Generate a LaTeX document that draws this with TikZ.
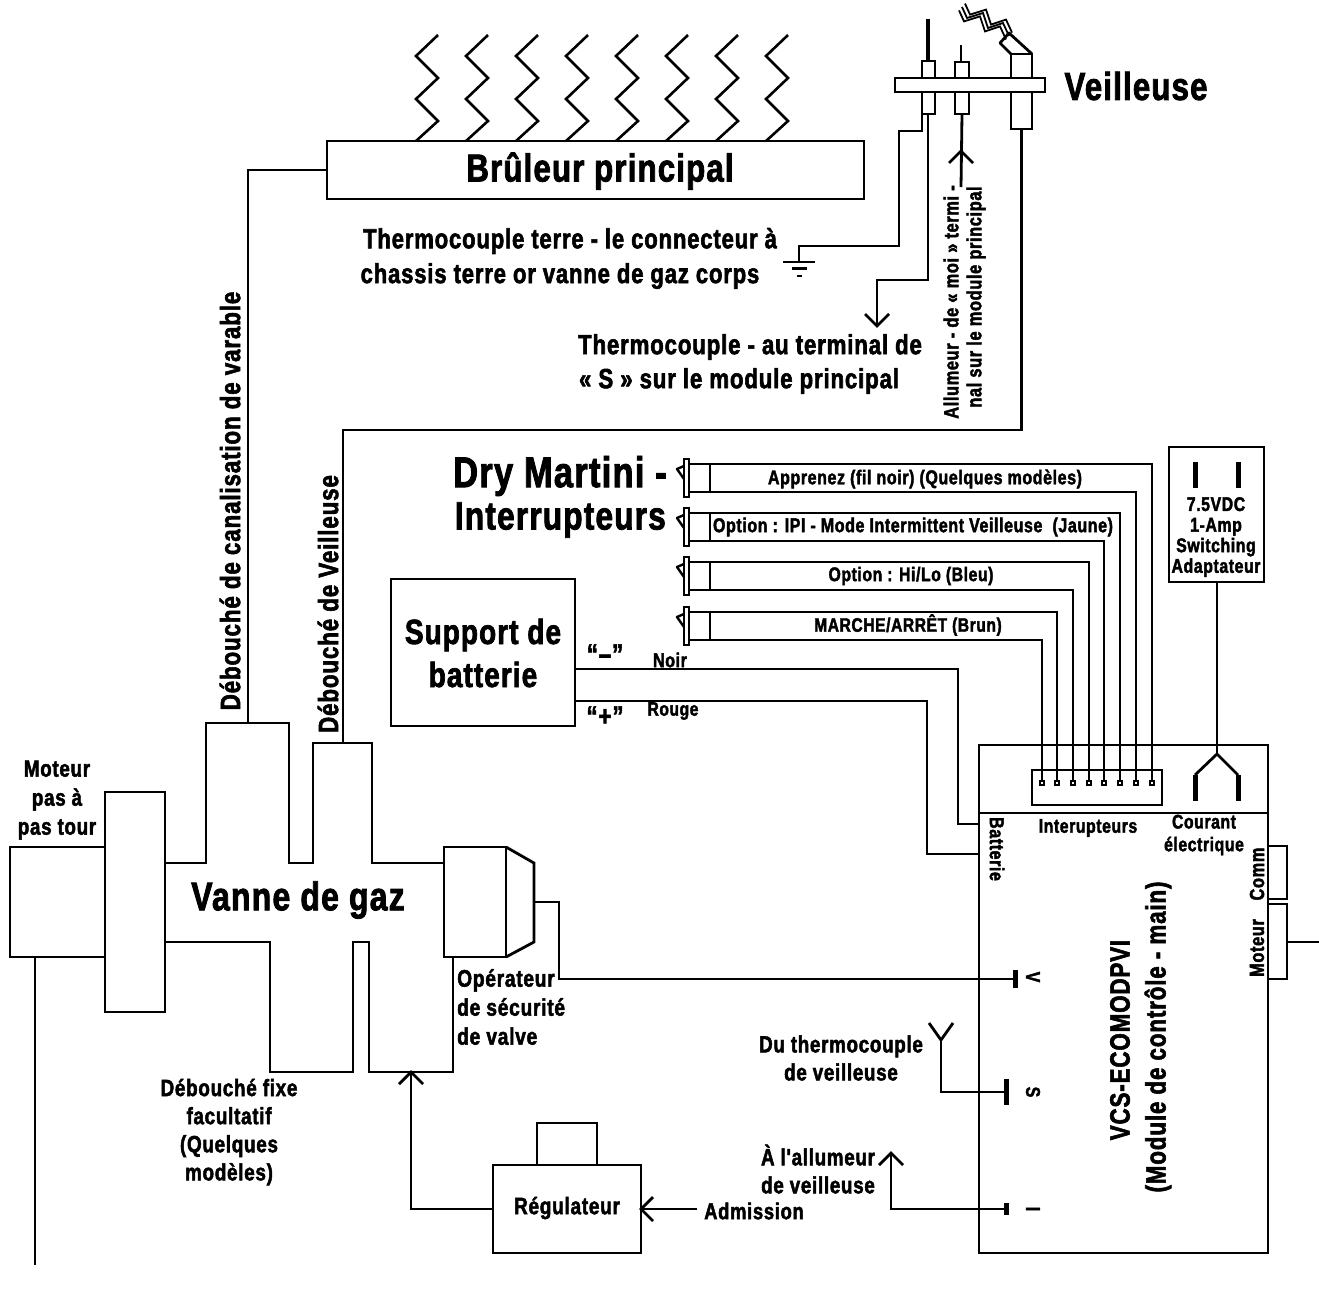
\documentclass[tikz,border=0pt]{standalone}
\usepackage{fontspec}
\newfontfamily\lab[FakeStretch=0.8,LetterSpace=3,BoldFeatures={FakeBold=2}]{Liberation Sans}
\usetikzlibrary{calc,arrows.meta}
\tikzset{
  wire/.style={line width=2.8pt,line cap=butt,line join=miter},
  box/.style={draw,line width=2.8pt,rectangle,inner sep=0pt,outer sep=0pt},
  barb/.style={line width=2.8pt},
  lbl/.style={inner sep=0pt,align=center,font=\lab\bfseries\fontsize{#1}{#1}\selectfont},
  lbl/.default=20,
}
\newcommand{\bx}[5]{\node[box,minimum width=#4-#2,minimum height=#5-#3] (#1) at ({(#2+#4)/2},{(#3+#5)/2}) {};}
\newcommand{\barrow}[3]{% tip name, direction dx dy unit
  \draw[barb] ($(#1)+(#2*12+#3*12,#3*12+#2*12)$) -- (#1) -- ($(#1)+(#2*12-#3*12,#3*12-#2*12)$);}
\begin{document}
\begin{tikzpicture}[x=1pt,y=-1pt]
\useasboundingbox (0,0) rectangle (1319,1293);
% Burner and flames
\bx{burner}{327}{141}{864}{199}
\foreach \i in {0,...,7}{
  \coordinate (fl\i) at ({416+50*\i},141);
  \draw[wire,line width=2.6pt] (fl\i) -- ({438+50*\i},121) -- ({416+50*\i},99) -- ({438+50*\i},78) -- ({416+50*\i},56) -- ({438+50*\i},35);
}
\node[lbl=39] (tburner) at (600,171) {Brûleur principal};
% Pilot
\bx{pe1}{922}{61}{935}{114}
\bx{pe2}{955}{62}{969}{114}
\bx{pe3}{1011}{54}{1032}{129}
\node[box,fill=white,minimum width=150pt,minimum height=14pt] (pbar) at (970,85) {};
\coordinate (rod1) at (928,19);
\coordinate (rod2) at (961,45);
\draw[line width=4.5pt] (rod1) -- (pe1.north -| rod1);
\draw[wire] (rod2) -- (pe2.north -| rod2);
\draw[wire,line join=round] (pe3.north west) -- (1000,43) -- (1009,33) -- (pe3.north east);
\foreach \d in {-1,0,1}{
  \draw[line width=1.8pt] ($(1009,36)+(\d*3,-\d*3.4)$) -- ($(1003,23)+(\d*3,-\d*3.4)$) -- ($(988,28)+(\d*3,-\d*3.4)$) -- ($(983,13)+(\d*3,-\d*3.4)$) -- ($(967,18)+(\d*3,-\d*3.4)$) -- ($(962,7)+(\d*3,-\d*3.4)$);
}
\node[lbl=39] (tveil) at (1136,86) {Veilleuse};
% Pilot wires
\coordinate (gnd) at (799,262);
\draw[wire] (922,114) -- (922,131) -- (899,131) -- (899,246) -| (gnd);
\draw[wire] (783,262) -- (815,262);
\draw[wire] (792,268.5) -- (807,268.5);
\draw[wire] (797,276) -- (802,276);
\coordinate (tip1) at (877,326);
\draw[wire] (pe1.south -| rod1) -- (928,280) -| (tip1);
\barrow{tip1}{0}{-1}
\coordinate (tip2) at (961,151);
\coordinate (w2e) at (961,187);
\draw[wire] (pe2.south) -- (w2e);
\barrow{tip2}{0}{1}
\coordinate (pilotport) at (343,743);
\draw[wire] (pe3.south) |- (343,430) -- (pilotport);
% Pilot labels
\node[lbl=27.6] (t1) at (570,241) {Thermocouple terre - le connecteur à};
\node[lbl=27.6] (t2) at (560,276) {chassis terre or vanne de gaz corps};
\node[lbl=27.8] (t3) at (750,347) {Thermocouple - au terminal de};
\node[lbl=27.8] (t4) at (739,381) {« S » sur le module principal};
\node[lbl=20.5,rotate=90] (t5) at (951,302) {Allumeur - de « moi » termi -};
\node[lbl=20.5,rotate=90] (t6) at (976,297) {nal sur le module principal};
\node[lbl=28,rotate=90] (t7) at (230,501) {Débouché de canalisation de varable};
\node[lbl=28,rotate=90] (t8) at (328,604) {Débouché de Veilleuse};
% Gas valve
\coordinate (port1) at (248,723);
\draw[wire] (165,863) -- (206,863) -- (206,723) -- (289,723) -- (289,863) -- (313,863) -- (313,743) -- (372,743) -- (372,863) -- (444,863);
\draw[wire] (165,942) -- (270,942) -- (270,1072) -- (353,1072) -- (353,942) -- (369,942) -- (369,1072) -- (453,1072) -- (453,957);
\draw[wire] (burner.west) -| (port1);
\bx{block}{105}{792}{165}{1012}
\bx{motor}{10}{847}{105}{957}
\coordinate (motend) at (35,1265);
\draw[wire] (motor.south -| motend) -- (motend);
\node[lbl=40] (tvanne) at (298,900) {Vanne de gaz};
\node[lbl=23.5] (tmot) at (57,800) {Moteur\\[5.5pt]pas à\\[5.5pt]pas tour};
% Safety operator
\bx{oper}{444}{847}{506}{957}
\draw[wire] (oper.north east) -- (534,863) -- (534,942) -- (oper.south east);
\node[lbl=24,align=left,anchor=west] (top) at (457,1007) {Opérateur\\[5pt]de sécurité\\[5pt]de valve};
\node[lbl=23.6] (tdeb) at (229,1132) {Débouché fixe\\[4.5pt]facultatif\\[4.5pt](Quelques\\[4.5pt]modèles)};
% Regulator
\bx{reg}{493}{1165}{641}{1253}
\bx{regtop}{537}{1123}{597}{1165}
\coordinate (tip3) at (411,1072);
\draw[wire] (reg.west) -| (tip3);
\barrow{tip3}{0}{1}
\coordinate (adm) at (697,1209);
\draw[wire] (adm) -- (reg.east);
\draw[barb] ($(reg.east)+(12,-12)$) -- (reg.east) -- ($(reg.east)+(12,12)$);
\node[lbl=23.8] (treg) at (567,1208) {Régulateur};
\node[lbl=23] (tadm) at (754,1211) {Admission};
% Module
\bx{mod}{979}{745}{1268}{1253}
\coordinate (divl) at (979,813);
\coordinate (divr) at (1268,813);
\draw[wire] (divl) -- (divr);
\bx{cbox}{1032}{770}{1162}{805}
\bx{comm}{1268}{846}{1287}{899}
\bx{moteur}{1268}{904}{1287}{979}
\coordinate (motout) at (1319,942);
\draw[wire] (1287,942) -- (motout);
\foreach \n/\x in {1/1042,2/1057,3/1073,4/1089,5/1104,6/1120,7/1136,8/1152}{
  \node[box,line width=2pt,fill=white,minimum width=4pt,minimum height=4pt] (pin\n) at (\x,783) {};
}
% Power fork
\coordinate (forkj) at (1217,754);
\coordinate (progl) at (1195,775);
\coordinate (progr) at (1238,775);
\draw[wire,line join=round] (progl) -- (forkj) -- (progr);
\draw[line width=5pt] (progl) -- ++(0,26);
\draw[line width=5pt] (progr) -- ++(0,26);
% Adapter
\bx{adapt}{1169}{447}{1264}{582}
\draw[line width=5pt] (1195,462) -- (1195,488);
\draw[line width=5pt] (1238,462) -- (1238,488);
\draw[wire] (adapt.south -| forkj) -- (forkj);
\node[lbl=19.8] (tadapt) at (1216,537) {7.5VDC\\[0.8pt]1-Amp\\[0.8pt]Switching\\[0.8pt]Adaptateur};
% Connectors
\foreach \c/\t/\b/\nt/\nb in {A/464/492/8/7,B/513/541/6/5,C/562/590/4/3,D/612/640/2/1}{
  \bx{conn\c}{689}{\t-2}{710}{\b+2}
  \node[box,minimum width=5pt,minimum height=38pt] (thin\c) at (686.5,{(\t+\b)/2}) {};
  \draw[wire,line width=2.4pt,line join=round] (684,\t+2) -- (677,\t+5) -- (684,\t+15);
  \draw[wire] (710,\t) -| (pin\nt);
  \draw[wire] (710,\b) -| (pin\nb);
}
\node[lbl=20] (wa) at (925,479) {Apprenez (fil noir) (Quelques modèles)};
\node[lbl=20] (wb) at (913,527) {Option : IPI - Mode Intermittent Veilleuse~~(Jaune)};
\node[lbl=19.7] (wc) at (911,576) {Option : Hi/Lo (Bleu)};
\node[lbl=19.5] (wd) at (908,625) {MARCHE/ARRÊT (Brun)};
\node[lbl=43,anchor=east] (tdry) at (667,476) {Dry Martini -};
\node[lbl=39.5,anchor=east] (tint) at (666,520) {Interrupteurs};
% Battery
\bx{batt}{391}{579}{575}{726}
\node[lbl=35] (tbatt) at (483,653) {Support de\\[8pt]batterie};
\draw[wire] (575,669) -- (958,669) -- (958,824) -- (979,824);
\draw[wire] (575,701) -- (927,701) -- (927,854) -- (979,854);
\node[lbl=28] (tm) at (605,654) {“–”};
\node[lbl=28] (tp) at (605,716) {“+”};
\node[lbl=20] (tn) at (670,660) {Noir};
\node[lbl=19.5] (tr) at (673,711) {Rouge};
% Module terminals
\coordinate (tV) at (1015,979);
\coordinate (tS) at (1006,1092);
\coordinate (tI) at (1006,1209);
\draw[wire] (534,902) -- (559,902) |- (tV);
\draw[line width=5pt] (1015,970) -- (1015,988);
\draw[line width=5pt] (1006,1079) -- (1006,1105);
\draw[line width=5pt] (1006,1203) -- (1006,1215);
\coordinate (yj) at (941,1040);
\draw[wire] (tS) -| (yj);
\draw[barb] (929,1023) -- (yj) -- (953,1023);
\coordinate (tip4) at (891,1153);
\draw[wire] (tI) -| (tip4);
\barrow{tip4}{0}{1}
\node[lbl=20,rotate=-90] (lV) at (1033,977) {V};
\node[lbl=20,rotate=-90] (lS) at (1033,1092) {S};
\node[lbl=20,rotate=-90] (lI) at (1033,1209) {I};
% Module labels
\node[lbl=19.7] (ti) at (1088,828) {Interupteurs};
\node[lbl=19.7] (tc) at (1204,835) {Courant\\[3pt]électrique};
\node[lbl=20,rotate=-90] (tb) at (997,849) {Batterie};
\node[lbl=20.5,rotate=90] (tcm) at (1257,874) {Comm};
\node[lbl=20.5,rotate=90] (tmo) at (1257,948) {Moteur};
\node[lbl=28,rotate=90] (tvcs) at (1120,1040) {VCS-ECOMODPVI};
\node[lbl=28,rotate=90] (tmc) at (1158,1037) {(Module de contrôle - main)};
\node[lbl=23.5] (tdu) at (841,1058) {Du thermocouple\\[4.5pt]de veilleuse};
\node[lbl=23.5] (tal) at (818,1169) {À l'allumeur\\[4.5pt]de veilleuse};
\end{tikzpicture}
\end{document}
